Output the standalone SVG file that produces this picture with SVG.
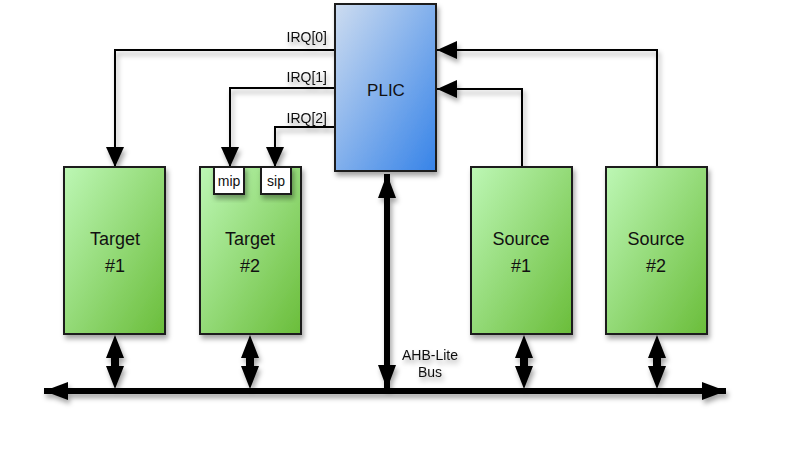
<svg xmlns="http://www.w3.org/2000/svg" width="799" height="449" viewBox="0 0 799 449">
<defs>
<linearGradient id="gGreen" x1="0" y1="0" x2="1" y2="1">
<stop offset="0" stop-color="#bdf7b5"/>
<stop offset="1" stop-color="#6abd3a"/>
</linearGradient>
<linearGradient id="gBlue" x1="0" y1="0" x2="1" y2="1">
<stop offset="0" stop-color="#cddcf0"/>
<stop offset="1" stop-color="#3683e8"/>
</linearGradient>
<filter id="sh" x="-20%" y="-20%" width="150%" height="150%">
<feDropShadow dx="2" dy="4" stdDeviation="2.5" flood-color="#000" flood-opacity="0.35"/>
</filter>
<marker id="ah" markerUnits="userSpaceOnUse" markerWidth="20" markerHeight="18" viewBox="0 0 20 18" refX="20" refY="9" orient="auto">
<path d="M0,0 L20,9 L0,18 Z" fill="#000"/>
</marker>
<marker id="ahBig" markerUnits="userSpaceOnUse" markerWidth="24" markerHeight="18" viewBox="0 0 24 18" refX="24" refY="9" orient="auto-start-reverse">
<path d="M0,0 L24,9 L0,18 Z" fill="#000"/>
</marker>
</defs>
<style>
.box{stroke:#1a1a1a;stroke-width:2}
.green{fill:url(#gGreen)}
.blue{fill:url(#gBlue)}
.reg{fill:#fff;stroke:#1a1a1a;stroke-width:2}
.lbl{font-family:"Liberation Sans",Arial,sans-serif;font-size:18px;fill:#111;text-anchor:middle}
.plic{font-size:17px}
.small{font-family:"Liberation Sans",Arial,sans-serif;font-size:14px;fill:#111}
.irq{text-anchor:end}
.mid{text-anchor:middle}
.wire{fill:none;stroke:#000;stroke-width:2;marker-end:url(#ah)}
.thick{fill:none;stroke:#000;stroke-width:6}
</style>

<g id="connectors" filter="url(#sh)">
<path class="wire" d="M335,50 H115 V167"/>
<path class="wire" d="M335,88 H230 V167"/>
<path class="wire" d="M335,127 H275 V167"/>
<path class="wire" d="M522,167 V89 H437"/>
<path class="wire" d="M657,167 V50 H437"/>
<line class="thick" x1="387" y1="174" x2="387" y2="389" marker-start="url(#ahBig)" marker-end="url(#ahBig)"/>
<line class="thick" x1="44" y1="391" x2="726" y2="391" marker-start="url(#ahBig)" marker-end="url(#ahBig)"/>
<path d="M115,335 L124,358 L119,358 L119,366 L124,366 L115,389 L106,366 L111,366 L111,358 L106,358 Z" fill="#000"/>
<path d="M250,335 L259,358 L254,358 L254,366 L259,366 L250,389 L241,366 L246,366 L246,358 L241,358 Z" fill="#000"/>
<path d="M524,335 L533,358 L528,358 L528,366 L533,366 L524,389 L515,366 L520,366 L520,358 L515,358 Z" fill="#000"/>
<path d="M657,335 L666,358 L661,358 L661,366 L666,366 L657,389 L648,366 L653,366 L653,358 L648,358 Z" fill="#000"/>
<text class="small irq" x="327" y="42">IRQ[0]</text>
<text class="small irq" x="327" y="82">IRQ[1]</text>
<text class="small irq" x="327" y="123">IRQ[2]</text>
<text class="small mid" x="430" y="360">AHB-Lite</text>
<text class="small mid" x="430" y="377">Bus</text>
</g>

<g id="plic">
<rect class="box blue" x="335" y="4" width="101" height="167" filter="url(#sh)"/>
<text class="lbl plic" x="386" y="96">PLIC</text>
</g>

<g id="target1">
<rect class="box green" x="64" y="167" width="101" height="167" filter="url(#sh)"/>
<text class="lbl" x="115" y="245">Target</text>
<text class="lbl" x="115" y="272">#1</text>
</g>

<g id="target2">
<rect class="box green" x="200" y="167" width="101" height="167" filter="url(#sh)"/>
<text class="lbl" x="250" y="245">Target</text>
<text class="lbl" x="250" y="272">#2</text>
<g id="mip">
<rect class="reg" x="214" y="167" width="30" height="27" filter="url(#sh)"/>
<text class="small mid" x="229" y="186">mip</text>
</g>
<g id="sip">
<rect class="reg" x="261" y="167" width="30" height="27" filter="url(#sh)"/>
<text class="small mid" x="276" y="186">sip</text>
</g>
</g>

<g id="source1">
<rect class="box green" x="471" y="167" width="101" height="167" filter="url(#sh)"/>
<text class="lbl" x="521" y="245">Source</text>
<text class="lbl" x="521" y="272">#1</text>
</g>

<g id="source2">
<rect class="box green" x="606" y="167" width="101" height="167" filter="url(#sh)"/>
<text class="lbl" x="656" y="245">Source</text>
<text class="lbl" x="656" y="272">#2</text>
</g>
</svg>
